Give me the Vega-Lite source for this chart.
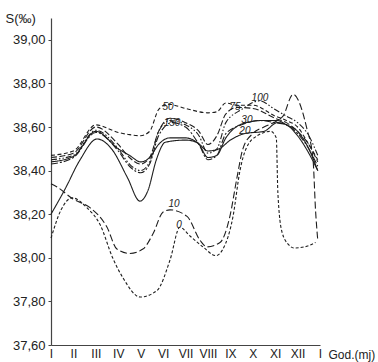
{
  "$schema": "https://vega.github.io/schema/vega-lite/v6.json",
  "autosize": "none",
  "width": 269,
  "height": 327,
  "padding": {"left": 51, "top": 18, "right": 58, "bottom": 17},
  "background": "white",
  "config": {"view": {"stroke": null}},
  "datasets": {
    "curves": [
      {"depth": "0", "m": 0, "s": 38.09}, {"depth": "0", "m": 0.45, "s": 38.22}, {"depth": "0", "m": 0.95, "s": 38.275}, {"depth": "0", "m": 1.6, "s": 38.23}, {"depth": "0", "m": 2.2, "s": 38.15}, {"depth": "0", "m": 2.75, "s": 38.0}, {"depth": "0", "m": 3.2, "s": 37.91}, {"depth": "0", "m": 3.98, "s": 37.82}, {"depth": "0", "m": 4.73, "s": 37.85}, {"depth": "0", "m": 5.31, "s": 37.99}, {"depth": "0", "m": 5.75, "s": 38.14}, {"depth": "0", "m": 6.2, "s": 38.1}, {"depth": "0", "m": 6.78, "s": 38.05}, {"depth": "0", "m": 7.35, "s": 38.01}, {"depth": "0", "m": 7.67, "s": 38.04}, {"depth": "0", "m": 8.12, "s": 38.19}, {"depth": "0", "m": 8.43, "s": 38.4}, {"depth": "0", "m": 8.7, "s": 38.5}, {"depth": "0", "m": 9.2, "s": 38.56}, {"depth": "0", "m": 9.8, "s": 38.58}, {"depth": "0", "m": 10.05, "s": 38.55}, {"depth": "0", "m": 10.12, "s": 38.3}, {"depth": "0", "m": 10.3, "s": 38.12}, {"depth": "0", "m": 10.6, "s": 38.06}, {"depth": "0", "m": 10.85, "s": 38.045}, {"depth": "0", "m": 11.3, "s": 38.05}, {"depth": "0", "m": 11.8, "s": 38.07},

      {"depth": "10", "m": 0, "s": 38.34}, {"depth": "10", "m": 0.27, "s": 38.325}, {"depth": "10", "m": 0.98, "s": 38.27}, {"depth": "10", "m": 1.74, "s": 38.23}, {"depth": "10", "m": 2.5, "s": 38.14}, {"depth": "10", "m": 2.94, "s": 38.04}, {"depth": "10", "m": 3.52, "s": 38.02}, {"depth": "10", "m": 4.1, "s": 38.04}, {"depth": "10", "m": 4.55, "s": 38.11}, {"depth": "10", "m": 5.0, "s": 38.21}, {"depth": "10", "m": 5.31, "s": 38.22}, {"depth": "10", "m": 6.07, "s": 38.19}, {"depth": "10", "m": 6.65, "s": 38.08}, {"depth": "10", "m": 6.96, "s": 38.05}, {"depth": "10", "m": 7.54, "s": 38.07}, {"depth": "10", "m": 7.98, "s": 38.19}, {"depth": "10", "m": 8.3, "s": 38.37}, {"depth": "10", "m": 8.56, "s": 38.5}, {"depth": "10", "m": 9.0, "s": 38.57}, {"depth": "10", "m": 9.5, "s": 38.6}, {"depth": "10", "m": 10.1, "s": 38.63}, {"depth": "10", "m": 10.35, "s": 38.65}, {"depth": "10", "m": 10.8, "s": 38.75}, {"depth": "10", "m": 11.42, "s": 38.59}, {"depth": "10", "m": 11.69, "s": 38.45}, {"depth": "10", "m": 11.8, "s": 38.22}, {"depth": "10", "m": 11.9, "s": 38.08},

      {"depth": "20", "m": 0, "s": 38.2}, {"depth": "20", "m": 0.6, "s": 38.31}, {"depth": "20", "m": 1.3, "s": 38.45}, {"depth": "20", "m": 2.05, "s": 38.545}, {"depth": "20", "m": 2.7, "s": 38.5}, {"depth": "20", "m": 3.4, "s": 38.37}, {"depth": "20", "m": 3.97, "s": 38.26}, {"depth": "20", "m": 4.33, "s": 38.31}, {"depth": "20", "m": 4.7, "s": 38.45}, {"depth": "20", "m": 5.1, "s": 38.53}, {"depth": "20", "m": 6.0, "s": 38.54}, {"depth": "20", "m": 6.5, "s": 38.53}, {"depth": "20", "m": 7.0, "s": 38.49}, {"depth": "20", "m": 7.5, "s": 38.5}, {"depth": "20", "m": 8.0, "s": 38.54}, {"depth": "20", "m": 8.65, "s": 38.57}, {"depth": "20", "m": 9.5, "s": 38.58}, {"depth": "20", "m": 10.1, "s": 38.62}, {"depth": "20", "m": 10.5, "s": 38.61}, {"depth": "20", "m": 11.0, "s": 38.56}, {"depth": "20", "m": 11.5, "s": 38.48}, {"depth": "20", "m": 11.9, "s": 38.4},

      {"depth": "30", "m": 0, "s": 38.44}, {"depth": "30", "m": 1, "s": 38.465}, {"depth": "30", "m": 2, "s": 38.58}, {"depth": "30", "m": 3, "s": 38.5}, {"depth": "30", "m": 3.5, "s": 38.47}, {"depth": "30", "m": 4, "s": 38.44}, {"depth": "30", "m": 4.4, "s": 38.46}, {"depth": "30", "m": 4.8, "s": 38.52}, {"depth": "30", "m": 5.3, "s": 38.55}, {"depth": "30", "m": 6, "s": 38.55}, {"depth": "30", "m": 6.6, "s": 38.52}, {"depth": "30", "m": 7, "s": 38.46}, {"depth": "30", "m": 7.4, "s": 38.47}, {"depth": "30", "m": 7.8, "s": 38.55}, {"depth": "30", "m": 8.7, "s": 38.62}, {"depth": "30", "m": 9.5, "s": 38.63}, {"depth": "30", "m": 10.1, "s": 38.63}, {"depth": "30", "m": 10.5, "s": 38.61}, {"depth": "30", "m": 11, "s": 38.58}, {"depth": "30", "m": 11.5, "s": 38.5}, {"depth": "30", "m": 11.9, "s": 38.4},

      {"depth": "50", "m": 0, "s": 38.47}, {"depth": "50", "m": 1, "s": 38.49}, {"depth": "50", "m": 2, "s": 38.61}, {"depth": "50", "m": 3, "s": 38.575}, {"depth": "50", "m": 3.5, "s": 38.565}, {"depth": "50", "m": 4, "s": 38.56}, {"depth": "50", "m": 4.4, "s": 38.58}, {"depth": "50", "m": 4.8, "s": 38.68}, {"depth": "50", "m": 5.2, "s": 38.705}, {"depth": "50", "m": 6, "s": 38.685}, {"depth": "50", "m": 7, "s": 38.665}, {"depth": "50", "m": 7.4, "s": 38.67}, {"depth": "50", "m": 7.8, "s": 38.71}, {"depth": "50", "m": 8.3, "s": 38.7}, {"depth": "50", "m": 9, "s": 38.7}, {"depth": "50", "m": 10, "s": 38.65}, {"depth": "50", "m": 10.5, "s": 38.63}, {"depth": "50", "m": 11, "s": 38.6}, {"depth": "50", "m": 11.5, "s": 38.52}, {"depth": "50", "m": 11.9, "s": 38.45},

      {"depth": "75", "m": 0, "s": 38.46}, {"depth": "75", "m": 1, "s": 38.48}, {"depth": "75", "m": 2, "s": 38.6}, {"depth": "75", "m": 3, "s": 38.52}, {"depth": "75", "m": 3.5, "s": 38.46}, {"depth": "75", "m": 4, "s": 38.43}, {"depth": "75", "m": 4.4, "s": 38.46}, {"depth": "75", "m": 4.8, "s": 38.58}, {"depth": "75", "m": 5.3, "s": 38.64}, {"depth": "75", "m": 6, "s": 38.62}, {"depth": "75", "m": 6.6, "s": 38.58}, {"depth": "75", "m": 7, "s": 38.52}, {"depth": "75", "m": 7.4, "s": 38.56}, {"depth": "75", "m": 7.8, "s": 38.66}, {"depth": "75", "m": 8.3, "s": 38.69}, {"depth": "75", "m": 9, "s": 38.685}, {"depth": "75", "m": 10, "s": 38.64}, {"depth": "75", "m": 10.5, "s": 38.62}, {"depth": "75", "m": 11, "s": 38.58}, {"depth": "75", "m": 11.5, "s": 38.52}, {"depth": "75", "m": 11.9, "s": 38.44},

      {"depth": "100", "m": 0, "s": 38.45}, {"depth": "100", "m": 1, "s": 38.47}, {"depth": "100", "m": 2, "s": 38.585}, {"depth": "100", "m": 3, "s": 38.5}, {"depth": "100", "m": 3.5, "s": 38.43}, {"depth": "100", "m": 4, "s": 38.4}, {"depth": "100", "m": 4.4, "s": 38.44}, {"depth": "100", "m": 4.8, "s": 38.58}, {"depth": "100", "m": 5.3, "s": 38.63}, {"depth": "100", "m": 6, "s": 38.61}, {"depth": "100", "m": 6.6, "s": 38.56}, {"depth": "100", "m": 7, "s": 38.48}, {"depth": "100", "m": 7.4, "s": 38.5}, {"depth": "100", "m": 7.8, "s": 38.62}, {"depth": "100", "m": 8.5, "s": 38.68}, {"depth": "100", "m": 9.3, "s": 38.72}, {"depth": "100", "m": 10, "s": 38.68}, {"depth": "100", "m": 10.5, "s": 38.65}, {"depth": "100", "m": 11, "s": 38.62}, {"depth": "100", "m": 11.5, "s": 38.56}, {"depth": "100", "m": 11.9, "s": 38.47},

      {"depth": "150", "m": 0, "s": 38.43}, {"depth": "150", "m": 1, "s": 38.46}, {"depth": "150", "m": 2, "s": 38.575}, {"depth": "150", "m": 3, "s": 38.49}, {"depth": "150", "m": 3.5, "s": 38.42}, {"depth": "150", "m": 4, "s": 38.39}, {"depth": "150", "m": 4.4, "s": 38.43}, {"depth": "150", "m": 4.8, "s": 38.56}, {"depth": "150", "m": 5.4, "s": 38.62}, {"depth": "150", "m": 6, "s": 38.6}, {"depth": "150", "m": 6.6, "s": 38.52}, {"depth": "150", "m": 7, "s": 38.45}, {"depth": "150", "m": 7.4, "s": 38.47}, {"depth": "150", "m": 7.8, "s": 38.57}, {"depth": "150", "m": 8.5, "s": 38.61}, {"depth": "150", "m": 9.3, "s": 38.63}, {"depth": "150", "m": 10, "s": 38.62}, {"depth": "150", "m": 10.5, "s": 38.61}, {"depth": "150", "m": 11, "s": 38.57}, {"depth": "150", "m": 11.5, "s": 38.5}, {"depth": "150", "m": 11.9, "s": 38.42}
    ],
    "labels": [
      {"t": "0", "m": 5.71, "s": 38.15},
      {"t": "10", "m": 5.49, "s": 38.245},
      {"t": "20", "m": 8.65, "s": 38.58},
      {"t": "30", "m": 8.74, "s": 38.63},
      {"t": "50", "m": 5.22, "s": 38.69},
      {"t": "75", "m": 8.21, "s": 38.69},
      {"t": "100", "m": 9.32, "s": 38.735},
      {"t": "150", "m": 5.4, "s": 38.62}
    ]
  },
  "encoding": {
    "x": {
      "field": "m", "type": "quantitative",
      "scale": {"domain": [0, 12], "nice": false, "zero": false},
      "axis": {
        "values": [0, 1, 2, 3, 4, 5, 6, 7, 8, 9, 10, 11, 12],
        "labelExpr": "['I','II','III','IV','V','VI','VII','VIII','IX','X','XI','XII','I'][datum.value]",
        "grid": false, "ticks": false, "labelPadding": 3,
        "labelFlush": false, "labelOverlap": false,
        "labelFont": "Liberation Sans", "labelFontSize": 12, "labelColor": "#222",
        "domainColor": "#444", "domainWidth": 1.2,
        "title": "God.(mj)", "titleFont": "Liberation Sans", "titleFontSize": 12,
        "titleFontWeight": "normal", "titleColor": "#222",
        "titleX": 277, "titleY": 9, "titleAlign": "left", "titleBaseline": "middle"
      }
    },
    "y": {
      "field": "s", "type": "quantitative",
      "scale": {"domain": [37.6, 39.1], "nice": false, "zero": false},
      "axis": {
        "values": [37.6, 37.8, 38.0, 38.2, 38.4, 38.6, 38.8, 39.0],
        "labelExpr": "replace(format(datum.value, '.2f'), '.', ',')",
        "grid": false, "tickSize": 3, "labelPadding": 3,
        "tickColor": "#444", "domainColor": "#444", "domainWidth": 1.2,
        "labelFont": "Liberation Sans", "labelFontSize": 13, "labelColor": "#222",
        "title": "S(‰)", "titleFont": "Liberation Sans", "titleFontSize": 13,
        "titleFontWeight": "normal", "titleColor": "#222", "titleAngle": 0,
        "titleX": -46, "titleY": 0, "titleAlign": "left", "titleBaseline": "middle"
      }
    }
  },
  "layer": [
    {
      "data": {"name": "curves"},
      "mark": {"type": "line", "interpolate": "monotone", "color": "#1e1e1e"},
      "encoding": {
        "detail": {"field": "depth", "type": "nominal"},
        "strokeDash": {
          "field": "depth", "type": "nominal", "legend": null,
          "scale": {
            "domain": ["0", "10", "20", "30", "50", "75", "100", "150"],
            "range": [[3, 2], [7, 3], [1, 0], [1, 0], [4, 2.5], [6, 2.5], [6, 2, 1.5, 2, 1.5, 2], [7, 2, 2, 2]]
          }
        },
        "strokeWidth": {
          "field": "depth", "type": "nominal", "legend": null,
          "scale": {
            "domain": ["0", "10", "20", "30", "50", "75", "100", "150"],
            "range": [1.1, 1.1, 1.0, 1.6, 1.1, 1.7, 1.1, 1.1]
          }
        }
      }
    },
    {
      "data": {"name": "labels"},
      "mark": {"type": "text", "font": "Liberation Sans", "fontSize": 10, "fontStyle": "italic", "fill": "#222", "color": "#222", "align": "center", "baseline": "middle"},
      "encoding": {"text": {"field": "t", "type": "nominal"}}
    }
  ]
}
